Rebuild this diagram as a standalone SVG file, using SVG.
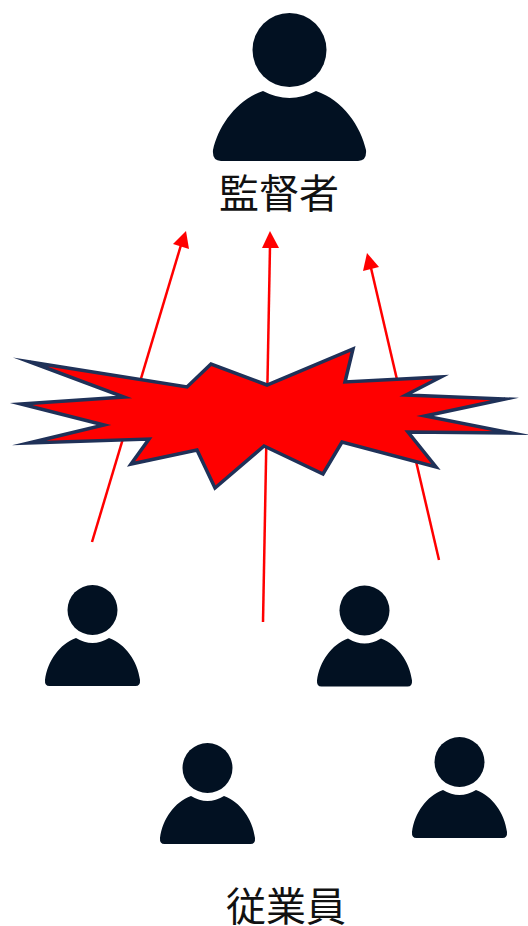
<svg xmlns="http://www.w3.org/2000/svg" width="528" height="926" viewBox="0 0 528 926">
<style>
.p{fill:#021122}
.l{stroke:#f00;stroke-width:2.5;fill:none}
.h{fill:#f00}
.t{font-family:"Noto Sans CJK JP","Liberation Sans",sans-serif;font-size:40px;fill:#111;text-anchor:middle}
</style>
<defs>
<g id="small">
<circle cx="0" cy="0" r="25"/>
<path d="M-16.5,28 Q0,38 16.5,28 C33,34 45,51 47.5,70 Q48,76 43,76 L-43,76 Q-48,76 -47.5,70 C-45,51 -33,34 -16.5,28Z"/>
</g>
</defs>
<rect width="528" height="926" fill="#fff"/>
<g id="connectors">
<line class="l" x1="92" y1="542" x2="181" y2="245"/><polygon class="h" points="186,231 189,249 173,244"/>
<line class="l" x1="263" y1="622" x2="270" y2="246"/><polygon class="h" points="270,231 279,248 262,248"/>
<line class="l" x1="439" y1="560" x2="371" y2="268"/><polygon class="h" points="367,253 379,267 363,271"/>
</g>
<polygon id="burst" fill="#f00" stroke="#1f3158" stroke-width="3.5" stroke-linejoin="miter" stroke-miterlimit="40" points="30,362 187,387 211,364 267,385 353,349 345,382 441,377 406,395 505,399 425,416 511,433 408,432 436,467 342,442 323,474 264,446 215,488 197,450 131,464 149,439 29,443 104,425 21,404 124,397"/>
<g id="supervisor" class="p">
<circle cx="289.5" cy="50" r="37"/>
<path d="M263,91 Q289.500,105 316,91 C343,100 361,127 366,150 Q367,161 358,161 L221,161 Q212,161 213,150 C218,127 236,100 263,91Z"/>
</g>
<text class="t" x="279" y="208">監督者</text>
<g id="employee1" class="p"><use href="#small" x="92.500" y="610"/></g>
<g id="employee2" class="p"><use href="#small" x="364.500" y="610.500"/></g>
<g id="employee3" class="p"><use href="#small" x="207.500" y="768"/></g>
<g id="employee4" class="p"><use href="#small" x="459.500" y="762"/></g>
<text class="t" x="286" y="921">従業員</text>
</svg>
